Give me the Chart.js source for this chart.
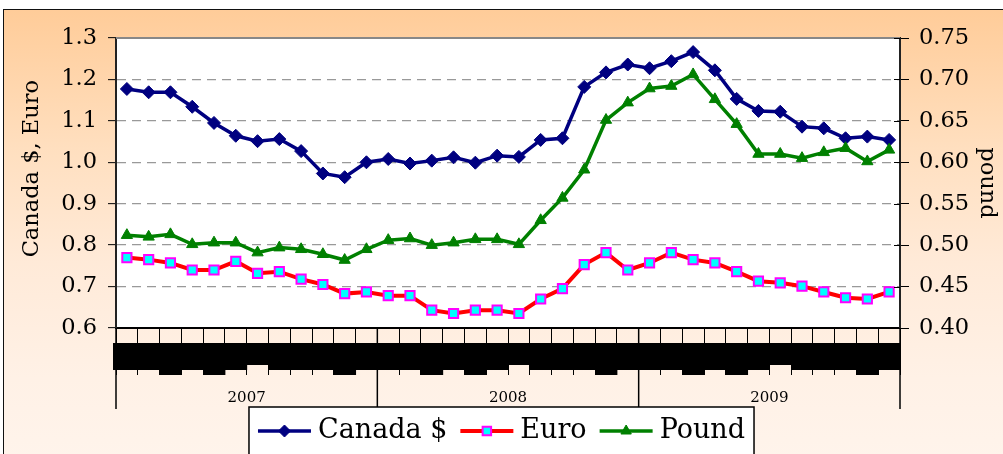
<!DOCTYPE html>
<html>
<head>
<meta charset="utf-8">
<script src="https://cdn.jsdelivr.net/npm/chart.js@4/dist/chart.umd.min.js"></script>
<style>
  html, body { margin: 0; padding: 0; background: #fff; }
  body { width: 1003px; height: 454px; position: relative; overflow: hidden; }
  #frame {
    position: absolute; left: 3px; top: 9px; width: 1010px; height: 460px;
    border-left: 1.5px solid #111; border-top: 1.5px solid #111;
    background: linear-gradient(to bottom, #ffcc99 0%, #ffdfbf 30%, #ffead8 55%, #fff1e6 80%, #fff4ec 100%);
  }
  #chart { position: absolute; left: 0; top: 0; }
</style>
</head>
<body>
<div id="frame"></div>
<canvas id="chart" width="1003" height="454"></canvas>
<script>
const FONT = "'DejaVu Serif', 'Liberation Serif', serif";

const years = ['2007', '2008', '2009'];
const monthNames = ['Jan', 'Feb', 'Mar', 'Apr', 'May', 'Jun', 'Jul', 'Aug', 'Sep', 'Oct', 'Nov', 'Dec'];
const months = years.flatMap(y => monthNames.map(m => m + ' ' + y));

const canada = [1.177, 1.169, 1.169, 1.134, 1.095, 1.064, 1.051, 1.056, 1.027, 0.973, 0.964, 1.000,
                1.008, 0.997, 1.004, 1.012, 0.999, 1.016, 1.013, 1.054, 1.058, 1.182, 1.217, 1.236,
                1.227, 1.244, 1.266, 1.222, 1.153, 1.124, 1.122, 1.086, 1.082, 1.058, 1.062, 1.054];
const euro = [0.770, 0.765, 0.757, 0.740, 0.740, 0.761, 0.732, 0.736, 0.718, 0.705, 0.683, 0.687,
              0.678, 0.678, 0.643, 0.635, 0.643, 0.643, 0.635, 0.670, 0.695, 0.753, 0.782, 0.740,
              0.757, 0.782, 0.765, 0.757, 0.736, 0.713, 0.709, 0.701, 0.687, 0.673, 0.670, 0.687];
const pound = [0.512, 0.510, 0.513, 0.501, 0.503, 0.503, 0.491, 0.497, 0.495, 0.489, 0.482, 0.495,
               0.506, 0.508, 0.500, 0.503, 0.507, 0.507, 0.501, 0.530, 0.557, 0.591, 0.651, 0.672,
               0.689, 0.692, 0.706, 0.676, 0.646, 0.610, 0.610, 0.605, 0.612, 0.617, 0.601, 0.615];

const leftTicks = [0.6, 0.7, 0.8, 0.9, 1.0, 1.1, 1.2, 1.3];
const rightTicks = [0.40, 0.45, 0.50, 0.55, 0.60, 0.65, 0.70, 0.75];

// the month labels come out as a black strip; a few months hang lower or higher
const labelDrop = [0, 0, 5, 0, 5, 0, -5, 0, 0, 0, 5, 0];

const plotBack = {
  id: 'plotBack',
  beforeDraw(chart) {
    const { ctx, chartArea: a } = chart;
    ctx.save();
    ctx.fillStyle = '#fff';
    ctx.fillRect(a.left, a.top, a.right - a.left, a.bottom - a.top);
    ctx.restore();
  },
  afterDraw(chart) {
    const { ctx, chartArea: a, scales: { x, y1 } } = chart;
    ctx.save();
    // grey top edge
    ctx.strokeStyle = '#888';
    ctx.lineWidth = 2;
    ctx.beginPath();
    ctx.moveTo(a.left, a.top);
    ctx.lineTo(a.right, a.top);
    ctx.stroke();

    // right ticks cross the axis
    ctx.strokeStyle = '#000';
    ctx.lineWidth = 1;
    y1.ticks.forEach(t => {
      const py = Math.round(y1.getPixelForValue(t.value)) + 0.5;
      ctx.beginPath();
      ctx.moveTo(a.right - 6, py);
      ctx.lineTo(a.right, py);
      ctx.stroke();
    });

    // month label strip
    const w = x.getPixelForValue(1) - x.getPixelForValue(0);
    ctx.fillStyle = '#000';
    months.forEach((m, i) => {
      const cx = x.getPixelForValue(i);
      const x0 = i === 0 ? x.left - 3 : cx - w / 2;
      const x1 = i === months.length - 1 ? x.right : cx + w / 2 + 0.5;
      ctx.fillRect(x0, x.top + 15, x1 - x0, 27 + labelDrop[i % 12]);
    });

    // year separators and labels
    ctx.lineWidth = 1.5;
    for (let k = 0; k <= years.length; k++) {
      let px;
      if (k === 0) px = x.left;
      else if (k === years.length) px = x.right;
      else px = (x.getPixelForValue(k * 12 - 1) + x.getPixelForValue(k * 12)) / 2;
      ctx.beginPath();
      ctx.moveTo(px, x.top);
      ctx.lineTo(px, x.top + 81);
      ctx.stroke();
    }
    ctx.font = '15px ' + FONT;
    ctx.textAlign = 'center';
    ctx.textBaseline = 'middle';
    years.forEach((yr, k) => {
      const px = (x.getPixelForValue(k * 12) + x.getPixelForValue(k * 12 + 11)) / 2;
      ctx.fillText(yr, px, x.top + 70);
    });
    ctx.restore();
  }
};

const boxLegend = {
  id: 'boxLegend',
  afterDraw(chart) {
    const ctx = chart.ctx;
    ctx.save();
    ctx.font = '27px ' + FONT;
    const sample = 53, gapText = 7, gapItem = 13, pad = 9;
    const items = chart.data.datasets.map(ds => ({ ds, tw: ctx.measureText(ds.label).width }));
    const total = pad * 2 + gapItem * (items.length - 1) +
      items.reduce((s, it) => s + sample + gapText + it.tw, 0);
    const left = (chart.width - total) / 2;
    const top = 407, midY = 431;
    ctx.fillStyle = '#fff';
    ctx.fillRect(left, top, total, chart.height - top + 5);
    ctx.strokeStyle = '#000';
    ctx.lineWidth = 1.5;
    ctx.strokeRect(left, top, total, chart.height - top + 10);

    let cx = left + pad;
    items.forEach(({ ds, tw }) => {
      ctx.strokeStyle = ds.borderColor;
      ctx.lineWidth = ds.borderWidth;
      ctx.beginPath();
      ctx.moveTo(cx, midY);
      ctx.lineTo(cx + sample, midY);
      ctx.stroke();
      ctx.fillStyle = ds.pointBackgroundColor;
      ctx.strokeStyle = ds.pointBorderColor;
      ctx.lineWidth = ds.pointBorderWidth;
      Chart.helpers.drawPoint(ctx, {
        pointStyle: ds.pointStyle, radius: ds.pointRadius - 0.5,
        borderWidth: ds.pointBorderWidth, rotation: 0
      }, cx + sample / 2, midY);
      ctx.fillStyle = '#000';
      ctx.textAlign = 'left';
      ctx.textBaseline = 'alphabetic';
      ctx.fillText(ds.label, cx + sample + gapText, 438);
      cx += sample + gapText + tw + gapItem;
    });
    ctx.restore();
  }
};

const gridColor = c => (c.index === 0 || c.index === leftTicks.length - 1) ? 'rgba(0,0,0,0)' : '#999';

new Chart(document.getElementById('chart'), {
  type: 'line',
  data: {
    labels: months,
    datasets: [
      {
        label: 'Canada $', data: canada, yAxisID: 'y', order: 3,
        borderColor: '#000080', borderWidth: 3.5,
        pointStyle: 'rectRot', pointRadius: 6.5,
        pointBackgroundColor: '#000080', pointBorderColor: '#000080', pointBorderWidth: 1
      },
      {
        label: 'Euro', data: euro, yAxisID: 'y', order: 2,
        borderColor: '#ff0000', borderWidth: 4,
        pointStyle: 'rect', pointRadius: 6.5,
        pointBackgroundColor: '#00ffff', pointBorderColor: '#ff00ff', pointBorderWidth: 2
      },
      {
        label: 'Pound', data: pound, yAxisID: 'y1', order: 1,
        borderColor: '#008000', borderWidth: 3.5,
        pointStyle: 'triangle', pointRadius: 6.5,
        pointBackgroundColor: '#008000', pointBorderColor: '#008000', pointBorderWidth: 1
      }
    ]
  },
  options: {
    responsive: false,
    animation: false,
    layout: { padding: { top: 38, left: 0, right: 0, bottom: 0 } },
    plugins: { legend: { display: false }, tooltip: { enabled: false } },
    scales: {
      x: {
        offset: true,
        ticks: { display: false },
        grid: { offset: true, drawOnChartArea: false, drawTicks: true, tickLength: 47, tickColor: '#000', color: '#000' },
        border: { color: '#000', width: 2 },
        afterFit: s => { s.height = 126; }
      },
      y: {
        position: 'left',
        min: 0.6, max: 1.3,
        afterBuildTicks: s => { s.ticks = leftTicks.map(v => ({ value: v })); },
        ticks: { callback: v => v.toFixed(1), color: '#000', padding: 11, font: { family: FONT, size: 22.5 } },
        grid: { color: gridColor, lineWidth: 1.3, borderDash: [9, 6], tickColor: '#000', tickLength: 8, tickWidth: 1 },
        border: { color: '#222', width: 2, dash: [9, 6] },
        // leading spaces lift the title a little above the axis centre, as in the original
        title: { display: true, text: '    Canada $, Euro', color: '#000', padding: { top: 19, bottom: 0 }, font: { family: FONT, size: 22.5 } },
        afterFit: s => { s.width = 116; }
      },
      y1: {
        position: 'right',
        min: 0.4, max: 0.75,
        afterBuildTicks: s => { s.ticks = rightTicks.map(v => ({ value: v })); },
        ticks: { callback: v => v.toFixed(2), color: '#000', padding: 10, font: { family: FONT, size: 22.5 } },
        grid: { drawOnChartArea: false, tickColor: '#000', tickLength: 9, tickWidth: 1 },
        border: { color: '#222', width: 2 },
        title: { display: true, text: 'pound', color: '#000', padding: { top: 2.5, bottom: 0 }, font: { family: FONT, size: 22.5 } },
        afterFit: s => { s.width = 103; }
      }
    }
  },
  plugins: [plotBack, boxLegend]
});
</script>
</body>
</html>
